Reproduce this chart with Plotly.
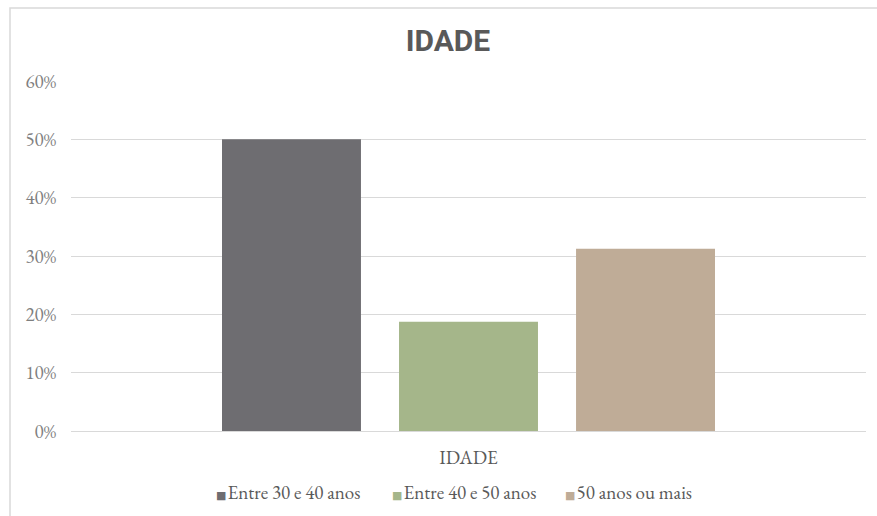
import plotly.graph_objects as go

categories = ["IDADE"]
series_names = ["Entre 30 e 40 anos", "Entre 40 e 50 anos", "50 anos ou mais"]
series_values = [[0.50], [0.1875], [0.3125]]
series_colors = ["#6e6d71", "#a5b68a", "#bfac97"]
y_ticks = [0, 0.1, 0.2, 0.3, 0.4, 0.5, 0.6]
y_tick_labels = ["0%", "10%", "20%", "30%", "40%", "50%", "60%"]

serif = "EB Garamond, Garamond, Liberation Serif, serif"

fig = go.Figure()
for name, vals, col in zip(series_names, series_values, series_colors):
    fig.add_trace(go.Bar(x=categories, y=vals, name=name, showlegend=False,
                         marker=dict(color=col, line=dict(width=0))))

W, H = 877, 516
L, R, T, B = 71, 11, 81, 85
pw, ph = W - L - R, H - T - B

# legend entries (real text) placed below the plot
legend_left_px = [214, 390, 563]
annotations = []
for name, col, xpx in zip(series_names, series_colors, legend_left_px):
    annotations.append(dict(
        text=f"<span style='color:{col};font-family:DejaVu Sans;font-size:11px'>■</span>"
             f"<span style='font-size:6px'> </span>{name}",
        xref="paper", yref="paper", x=(xpx - L) / pw, y=-(492 - (T + ph)) / ph,
        xanchor="left", yanchor="middle", showarrow=False,
        font=dict(family=serif, size=19, color="#595959")))

fig.update_layout(
    width=W, height=H,
    margin=dict(l=L, r=R, t=T, b=B, pad=0),
    paper_bgcolor="white", plot_bgcolor="white",
    barmode="group", bargap=0.332, bargroupgap=0.215,
    title=dict(text="<b>IDADE</b>", x=448 / W, xanchor="center", xref="container",
               y=1 - 40 / H, yanchor="middle", yref="container",
               font=dict(family="Roboto, Liberation Sans, sans-serif", size=30, color="#595959")),
    showlegend=False,
    annotations=annotations,
    xaxis=dict(showgrid=False, showline=True, linecolor="#d9d9d9", linewidth=1, ticks="",
               tickfont=dict(family=serif, size=19, color="#595959"), ticklabelstandoff=9),
    yaxis=dict(range=[0, 0.6], tickvals=y_ticks, ticktext=y_tick_labels, showgrid=True,
               gridcolor="#d9d9d9", gridwidth=1, zeroline=False, showline=False, ticks="",
               tickfont=dict(family=serif, size=19, color="#7f7f7f"), ticklabelstandoff=14),
    shapes=[dict(type="rect", xref="paper", yref="paper",
                 x0=(10 - L) / pw, x1=(W + 20 - L) / pw,
                 y0=-(H + 20 - T - ph) / ph, y1=(T + ph - 8) / ph,
                 line=dict(color="#d9d9d9", width=1.5), fillcolor="rgba(0,0,0,0)", layer="below")],
)

fig.write_html("out.html")
